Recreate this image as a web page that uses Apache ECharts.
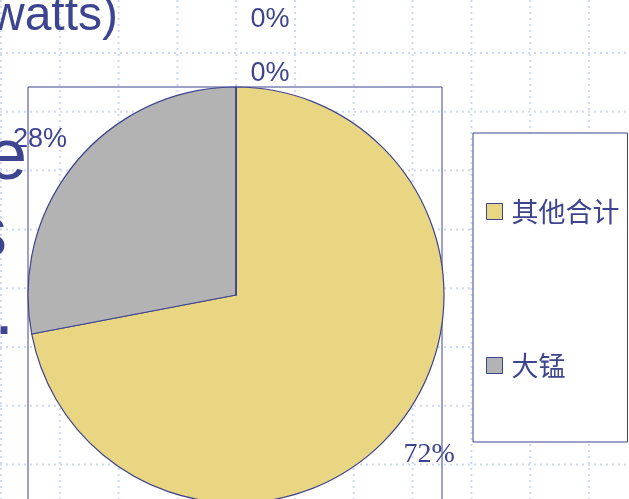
<!DOCTYPE html>
<html>
<head>
<meta charset="utf-8">
<style>
  html, body { margin: 0; padding: 0; background: #fff; }
  #main { width: 629px; height: 499px; }
</style>
<script src="https://cdn.jsdelivr.net/npm/echarts@6/dist/echarts.min.js"></script>
</head>
<body>
<div id="main"></div>
<script>
// 数据
var categories = ['其他合计', '大锰', '类别3', '类别4'];
var values = [72, 28, 0, 0];
var legendNames = ['其他合计', '大锰'];

var ink = '#3d4490';
var sliceColors = ['#e9d683', '#b3b3b3', '#e9d683', '#b3b3b3'];
// 标签相对默认位置的偏移
var labelShift = [[2, 2], [-5, 3], [34, 27], [34, -27]];

var chart = echarts.init(document.getElementById('main'));

// 背景虚线网格
var bg = [];
for (var i = 0; i < 11; i++) {
  var gx = 1 + 58.8 * i;
  bg.push({ type: 'line', z: -10, silent: true,
    shape: { x1: gx, y1: 0, x2: gx, y2: 499 },
    style: { stroke: '#cdd9f7', lineWidth: 2, lineDash: [2, 4] } });
}
for (var k = 0; k < 8; k++) {
  var gy = 53 + 58.8 * k;
  bg.push({ type: 'line', z: -10, silent: true,
    shape: { x1: 0, y1: gy, x2: 629, y2: gy },
    style: { stroke: '#cdd9f7', lineWidth: 2, lineDash: [2, 4] } });
}
// 幻灯片背景文字（被截断）
function slideText(t, x, y, size) {
  bg.push({ type: 'text', z: -5, silent: true,
    style: { text: t, x: x, y: y, align: 'right', verticalAlign: 'middle',
      font: size + 'px "Liberation Sans", Arial', fill: ink } });
}
slideText('(watts)', 118, 17, 48);
slideText('e', 27, 159, 72);
slideText('s', 7, 236, 72);
slideText('.', 14, 314, 72);
// 绘图区边框
bg.push({ type: 'rect', z: -1, silent: true,
  shape: { x: 28, y: 87, width: 414, height: 500 },
  style: { fill: 'transparent', stroke: ink, lineWidth: 1 } });

var pieData = [];
for (var j = 0; j < categories.length; j++) {
  pieData.push({
    name: categories[j],
    value: values[j],
    itemStyle: { color: sliceColors[j] },
    label: j == 0
      ? { fontFamily: '"Liberation Serif", "DejaVu Serif", serif', fontSize: 28 }
      : { fontFamily: '"Liberation Sans", Arial, sans-serif', fontSize: 27 }
  });
}

var option = {
  animation: false,
  graphic: bg,
  legend: {
    orient: 'vertical',
    left: 473,
    top: 133,
    data: legendNames,
    backgroundColor: '#fff',
    borderColor: ink,
    borderWidth: 1,
    padding: [65, 8, 63, 13],
    itemWidth: 16,
    itemHeight: 16,
    itemGap: 127,
    icon: 'rect',
    itemStyle: { borderColor: ink, borderWidth: 1 },
    textStyle: {
      fontFamily: '"Noto Sans CJK SC", sans-serif',
      fontSize: 27,
      color: ink,
      padding: [0, 0, 0, 4]
    }
  },
  series: [{
    type: 'pie',
    center: [236, 295],
    radius: 208,
    startAngle: 90,
    clockwise: true,
    avoidLabelOverlap: false,
    percentPrecision: 0,
    itemStyle: { borderColor: ink, borderWidth: 1.2 },
    label: {
      show: true,
      position: 'outside',
      formatter: '{d}%',
      color: ink,
      distanceToLabelLine: 0
    },
    labelLine: { show: false, length: 40, length2: 0 },
    labelLayout: function (p) {
      var s = labelShift[p.dataIndex];
      return { align: 'center', verticalAlign: 'middle', dx: s[0], dy: s[1], hideOverlap: false };
    },
    data: pieData
  }]
};
chart.setOption(option);
</script>
</body>
</html>
